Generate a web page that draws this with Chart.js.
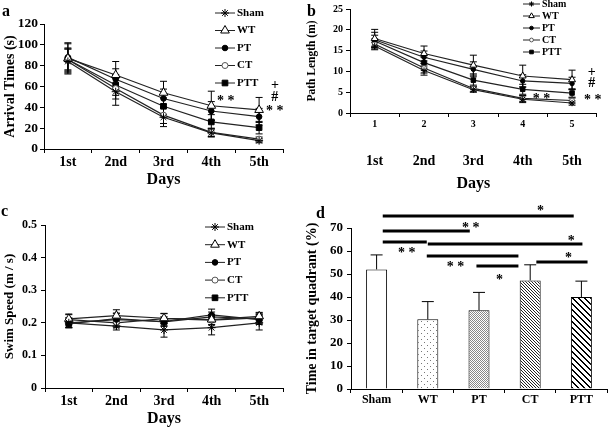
<!DOCTYPE html>
<html>
<head>
<meta charset="utf-8">
<script src="https://cdn.jsdelivr.net/npm/chart.js@4.4.1/dist/chart.umd.min.js"></script>
<style>
  html, body { margin: 0; padding: 0; background: #fff; }
  body { width: 609px; height: 427px; position: relative; overflow: hidden; }
  .panel { position: absolute; }
  .tag { position: absolute; font: bold 16px "Liberation Serif", serif; line-height: 16px; }
</style>
</head>
<body>
<div class="panel" style="left:0;top:0;width:300px;height:200px"><canvas id="chartA"></canvas></div>
<div class="panel" style="left:300px;top:0;width:309px;height:200px"><canvas id="chartB"></canvas></div>
<div class="panel" style="left:0;top:205px;width:300px;height:222px"><canvas id="chartC"></canvas></div>
<div class="panel" style="left:300px;top:200px;width:309px;height:227px"><canvas id="chartD"></canvas></div>
<div class="tag" style="left:2px;top:3px">a</div>
<div class="tag" style="left:307px;top:3px">b</div>
<div class="tag" style="left:1px;top:203px">c</div>
<div class="tag" style="left:316px;top:205px">d</div>
<script>
// group order everywhere: Sham, WT, PT, CT, PTT
const groups = ['Sham', 'WT', 'PT', 'CT', 'PTT'];
const days = ['1st', '2nd', '3rd', '4th', '5th'];
const dayNumbers = ['1', '2', '3', '4', '5'];

// a - arrival times (s)
const arrivalMeans = [
  [84, 55, 30.5, 15.5, 8],
  [87, 71, 54, 41.5, 37.5],
  [88, 67, 48.5, 36.5, 31],
  [86, 58, 32.5, 16, 9.5],
  [86, 61.5, 41, 26, 20.5]
];
const arrivalErrors = [
  [12, 13, 9, 4, 2],
  [14, 13, 11, 14, 12],
  [14, 10, 9, 9, 8],
  [10, 10, 8, 4, 2],
  [11, 10, 8, 7, 6]
];
const arrivalNotes = [[3.3, 50, '* *'], [4.33, 61, '+'], [4.33, 50, '#'], [4.33, 40, '* *']];

// b - path length (m)
const pathMeans = [
  [16.1, 10.2, 5.6, 3.3, 2.4],
  [17.9, 14.3, 11.5, 8.9, 8.0],
  [17.6, 13.4, 10.5, 7.7, 7.1],
  [16.6, 10.8, 5.9, 3.5, 3.0],
  [17.3, 12.1, 7.9, 5.7, 4.8]
];
const pathErrors = [
  [0.9, 1.1, 0.6, 0.8, 0.5],
  [2.2, 1.8, 2.4, 2.6, 2.3],
  [1.8, 1.5, 1.8, 1.5, 1.5],
  [1.2, 1.2, 0.8, 0.7, 0.6],
  [1.4, 1.3, 1.5, 1.2, 1.0]
];
const pathNotes = [[3.38, 4.3, '* *'], [4.4, 9.7, '+'], [4.4, 7.1, '#'], [4.42, 3.9, '* *']];

// c - swim speed (m / s)
const speedMeans = [
  [0.2, 0.19, 0.178, 0.185, 0.2],
  [0.212, 0.222, 0.214, 0.21, 0.22],
  [0.2, 0.21, 0.204, 0.224, 0.21],
  [0.21, 0.2, 0.213, 0.208, 0.215],
  [0.197, 0.213, 0.203, 0.218, 0.212]
];
const speedErrors = [
  [0.015, 0.012, 0.022, 0.022, 0.022],
  [0.015, 0.018, 0.015, 0.015, 0.012],
  [0.015, 0.02, 0.015, 0.018, 0.015],
  [0.015, 0.015, 0.015, 0.015, 0.015],
  [0.012, 0.015, 0.012, 0.015, 0.015]
];

// d - time in target quadrant (%)
const quadrantMeans = [52, 30.3, 34.2, 47.2, 40];
const quadrantErrors = [6.3, 7.7, 7.8, 6.8, 6.9];
// [from group, to group, level, mark, mark x, mark level]
const sigBrackets = [
  [0.12, 3.85, 75.2, '*', 3.2, 79],
  [0.12, 1.82, 68.7, '* *', 1.84, 71.7],
  [0.12, 0.98, 63.9, '* *', 0.59, 60.9],
  [1.0, 4.02, 63.0, '*', 3.8, 65.7],
  [0.98, 2.77, 57.8, '* *', 1.54, 54.8],
  [1.95, 2.77, 53.5, '*', 2.4, 49],
  [3.12, 4.12, 55.2, '*', 3.75, 58.7]
];

const SERIF = '"Liberation Serif", "Times New Roman", serif';
Chart.defaults.font.family = SERIF;
Chart.defaults.color = '#000';

// error bars drawn under the markers
const errorBars = {
  id: 'errorBars',
  beforeDatasetsDraw(chart, args, opts) {
    const ctx = chart.ctx, y = chart.scales.y;
    chart.data.datasets.forEach((ds, i) => {
      if (!ds.errors) return;
      const meta = chart.getDatasetMeta(i);
      ctx.save();
      ctx.strokeStyle = '#000';
      ctx.lineWidth = 1;
      meta.data.forEach((el, j) => {
        const v = ds.data[j], e = ds.errors[j], x = el.x;
        const top = y.getPixelForValue(v + e);
        const bot = y.getPixelForValue(opts.upOnly ? v : v - e);
        ctx.beginPath();
        ctx.moveTo(x, top); ctx.lineTo(x, bot);
        ctx.moveTo(x - opts.cap, top); ctx.lineTo(x + opts.cap, top);
        if (!opts.upOnly) { ctx.moveTo(x - opts.cap, bot); ctx.lineTo(x + opts.cap, bot); }
        ctx.stroke();
      });
      ctx.restore();
    });
  }
};

// legend with a line through the marker, like the original
const lineLegend = {
  id: 'lineLegend',
  afterDraw(chart, args, o) {
    if (!o.x) return;
    const ctx = chart.ctx;
    chart.data.datasets.forEach((ds, i) => {
      const y = o.y + i * o.step;
      ctx.save();
      ctx.strokeStyle = ds.borderColor;
      ctx.lineWidth = 1;
      ctx.beginPath(); ctx.moveTo(o.x, y); ctx.lineTo(o.x + o.len, y); ctx.stroke();
      ctx.fillStyle = ds.pointBackgroundColor;
      ctx.strokeStyle = ds.pointBorderColor;
      Chart.helpers.drawPoint(ctx, {pointStyle: ds.pointStyle, rotation: 0, radius: ds.pointRadius * o.scale, borderWidth: 1}, o.x + o.len / 2, y);
      ctx.fillStyle = '#000';
      ctx.font = o.font;
      ctx.textBaseline = 'middle';
      ctx.textAlign = 'left';
      ctx.fillText(ds.label, o.x + o.len + 2, y);
      ctx.restore();
    });
  }
};

// text marks placed in data coordinates
const notes = {
  id: 'notes',
  afterDraw(chart, args, o) {
    if (!o.items) return;
    const ctx = chart.ctx, xs = chart.scales.x, ys = chart.scales.y;
    ctx.save();
    ctx.fillStyle = '#000';
    ctx.font = o.font;
    ctx.textAlign = 'center';
    ctx.textBaseline = 'middle';
    o.items.forEach(([x, y, t]) => {
      const shift = t.includes('*') ? o.starShift : 0;
      ctx.fillText(t, xs.getPixelForValue(x), ys.getPixelForValue(y) + shift);
    });
    ctx.restore();
  }
};

const brackets = {
  id: 'brackets',
  afterDraw(chart, args, o) {
    if (!o.items) return;
    const ctx = chart.ctx, xs = chart.scales.x, ys = chart.scales.y;
    ctx.save();
    ctx.strokeStyle = '#000';
    ctx.fillStyle = '#000';
    ctx.lineWidth = 3;
    ctx.font = o.font;
    ctx.textAlign = 'center';
    ctx.textBaseline = 'middle';
    o.items.forEach(([a, b, lvl, mark, mx, my]) => {
      const py = ys.getPixelForValue(lvl);
      ctx.beginPath();
      ctx.moveTo(xs.getPixelForValue(a), py);
      ctx.lineTo(xs.getPixelForValue(b), py);
      ctx.stroke();
      ctx.fillText(mark, xs.getPixelForValue(mx), ys.getPixelForValue(my) + o.starShift);
    });
    ctx.restore();
  }
};

Chart.register(errorBars, lineLegend, notes, brackets);

const markerStyles = [
  {pointStyle: 'star', pointRadius: 4, pointBackgroundColor: '#000', pointBorderColor: '#000'},
  {pointStyle: 'triangle', pointRadius: 5, pointBackgroundColor: '#fff', pointBorderColor: '#000'},
  {pointStyle: 'circle', pointRadius: 2.8, pointBackgroundColor: '#000', pointBorderColor: '#000'},
  {pointStyle: 'circle', pointRadius: 3, pointBackgroundColor: '#fff', pointBorderColor: '#555'},
  {pointStyle: 'rect', pointRadius: 4, pointBackgroundColor: '#000', pointBorderColor: '#000'}
];

function fixedWidth(w) { return scale => { scale.width = w; }; }
function fixedHeight(h) { return scale => { scale.height = h; }; }

function lineChart(id, p) {
  const datasets = groups.map((g, i) => Object.assign({
    label: g,
    data: p.means[i],
    errors: p.errors[i],
    borderColor: '#222',
    borderWidth: 1.2,
    tension: 0,
    pointBorderWidth: 1
  }, markerStyles[i], {pointRadius: markerStyles[i].pointRadius * p.markerScale}));

  const scales = {
    x: {
      type: 'category',
      offset: true,
      afterFit: fixedHeight(p.xHeight),
      border: {display: true, color: '#000', width: 1},
      grid: {display: true, offset: true, drawOnChartArea: false, drawTicks: true, tickLength: 4, color: '#000'},
      ticks: {font: {size: p.xTickSize, weight: 'bold'}, padding: 1, maxRotation: 0, autoSkip: false},
      title: p.secondRow ? {display: false} : {display: true, text: 'Days', font: {size: 16, weight: 'bold', lineHeight: 1}, padding: {top: 0, bottom: p.daysPad}}
    },
    y: {
      min: p.yMin, max: p.yMax,
      afterFit: fixedWidth(p.yWidth),
      border: {display: true, color: '#000', width: 1},
      grid: {display: true, drawOnChartArea: false, drawTicks: true, tickLength: 4, color: '#000'},
      ticks: {stepSize: p.yStep, font: {size: p.yTickSize, weight: 'bold'}, padding: p.yTickPad},
      title: {display: true, text: p.yTitle, font: {size: p.yTitleSize, weight: 'bold', lineHeight: 1}, padding: {top: p.yTitlePad, bottom: 0}}
    }
  };
  if (p.secondRow) {
    scales.x2 = {
      type: 'category',
      position: 'bottom',
      weight: 1,
      offset: true,
      labels: days,
      afterFit: fixedHeight(p.x2Height),
      border: {display: false},
      grid: {display: false, drawTicks: false},
      ticks: {font: {size: 14, weight: 'bold'}, padding: p.x2Pad, maxRotation: 0, autoSkip: false},
      title: {display: true, text: 'Days', font: {size: 16, weight: 'bold', lineHeight: 1}, padding: {top: 0, bottom: p.daysPad}}
    };
  }

  return new Chart(document.getElementById(id), {
    type: 'line',
    data: {labels: p.labels, datasets},
    options: {
      responsive: true,
      maintainAspectRatio: false,
      animation: false,
      layout: {padding: p.padding},
      scales,
      plugins: {
        legend: {display: false},
        tooltip: {enabled: false},
        errorBars: {cap: p.cap, upOnly: false},
        lineLegend: p.legend,
        notes: {items: p.notes, font: 'bold 14px ' + SERIF, starShift: 4}
      }
    }
  });
}

lineChart('chartA', {
  labels: days, means: arrivalMeans, errors: arrivalErrors, notes: arrivalNotes,
  markerScale: 1, cap: 3.5,
  yMin: 0, yMax: 120, yStep: 20, yTickSize: 13.5, yTickPad: 2, yWidth: 44,
  yTitle: 'Arrival Times (s)', yTitleSize: 14, yTitlePad: 3,
  xHeight: 51, xTickSize: 14, daysPad: 12,
  padding: {left: 0, top: 24, right: 17, bottom: 0},
  legend: {x: 215, y: 13, step: 17.5, len: 20, scale: 1, font: 'bold 11px ' + SERIF}
});

lineChart('chartB', {
  labels: dayNumbers, means: pathMeans, errors: pathErrors, notes: pathNotes,
  markerScale: 0.8, cap: 3.5,
  yMin: 0, yMax: 25, yStep: 5, yTickSize: 10, yTickPad: 3, yWidth: 50,
  yTitle: 'Path Length (m)', yTitleSize: 11.5, yTitlePad: 6,
  xHeight: 14, xTickSize: 10, secondRow: true, x2Height: 73, x2Pad: 26, daysPad: 8,
  padding: {left: 0, top: 9, right: 11, bottom: 0},
  legend: {x: 223, y: 4, step: 12, len: 17, scale: 0.8, font: 'bold 10px ' + SERIF}
});

lineChart('chartC', {
  labels: days, means: speedMeans, errors: speedErrors, notes: null,
  markerScale: 1, cap: 3.5,
  yMin: 0, yMax: 0.5, yStep: 0.1, yTickSize: 12, yTickPad: 4, yWidth: 45,
  yTitle: 'Swim Speed (m / s)', yTitleSize: 13, yTitlePad: 3,
  xHeight: 39, xTickSize: 14, daysPad: 0.5,
  padding: {left: 0, top: 20, right: 17, bottom: 0},
  legend: {x: 205, y: 22, step: 17.7, len: 20, scale: 1, font: 'bold 11px ' + SERIF}
});

// bar fills
function pattern(size, paint) {
  const c = document.createElement('canvas');
  c.width = c.height = size;
  const g = c.getContext('2d');
  g.fillStyle = '#fff';
  g.fillRect(0, 0, size, size);
  paint(g);
  return g.createPattern(c, 'repeat');
}
const fills = [
  '#fff',
  pattern(6, g => { g.fillStyle = '#777'; g.fillRect(1, 1, 1, 1); g.fillRect(4, 4, 1, 1); }),
  pattern(2, g => { g.fillStyle = '#888'; g.fillRect(0, 0, 1, 1); g.fillRect(1, 1, 1, 1); }),
  pattern(3, g => { g.fillStyle = '#222'; for (let i = 0; i < 3; i++) g.fillRect(i, i, 1, 1); }),
  pattern(6, g => { g.fillStyle = '#000'; for (let i = 0; i < 6; i++) { g.fillRect(i, i, 1, 1); g.fillRect((i + 1) % 6, i, 1, 1); } })
];

new Chart(document.getElementById('chartD'), {
  type: 'bar',
  data: {
    labels: groups,
    datasets: [{
      data: quadrantMeans,
      errors: quadrantErrors,
      backgroundColor: fills,
      borderColor: '#000',
      borderWidth: 1,
      categoryPercentage: 1,
      barPercentage: 0.41
    }]
  },
  options: {
    responsive: true,
    maintainAspectRatio: false,
    animation: false,
    layout: {padding: {left: 0, top: 28, right: 2, bottom: 0}},
    scales: {
      x: {
        afterFit: fixedHeight(38),
        border: {display: true, color: '#000', width: 1},
        grid: {display: true, offset: true, drawOnChartArea: false, drawTicks: true, tickLength: 4, color: '#000'},
        ticks: {font: {size: 12, weight: 'bold'}, padding: 0, maxRotation: 0}
      },
      y: {
        min: 0, max: 70,
        afterFit: fixedWidth(51),
        border: {display: true, color: '#000', width: 1},
        grid: {display: true, drawOnChartArea: false, drawTicks: true, tickLength: 4, color: '#000'},
        ticks: {stepSize: 10, font: {size: 13, weight: 'bold'}, padding: 4},
        title: {display: true, text: 'Time in target quadrant (%)', font: {size: 14, weight: 'bold', lineHeight: 1}, padding: {top: 5, bottom: 0}}
      }
    },
    plugins: {
      legend: {display: false},
      tooltip: {enabled: false},
      errorBars: {cap: 6, upOnly: true},
      lineLegend: {},
      brackets: {items: sigBrackets, font: 'bold 14px ' + SERIF, starShift: 4}
    }
  }
});
</script>
</body>
</html>
